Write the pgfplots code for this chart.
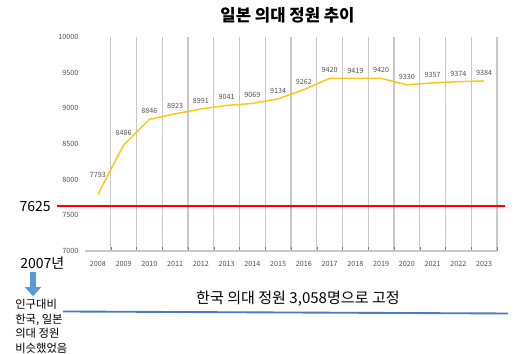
\documentclass[border=0pt]{standalone}
\usepackage{pgfplots}
\pgfplotsset{compat=1.18}
\usetikzlibrary{arrows.meta}
\usepackage{fontspec}
\setmainfont{Noto Sans CJK KR}
\definecolor{lineyellow}{RGB}{250,200,20}
\definecolor{gridgray}{RGB}{200,200,200}
\definecolor{ticktext}{RGB}{80,80,80}
\definecolor{krblue}{RGB}{70,125,190}
\definecolor{arrowblue}{RGB}{91,155,213}
\begin{document}
\begin{tikzpicture}
\path[use as bounding box] (-63.75pt,-77.25pt) rectangle (322.5pt,188.25pt);
\begin{axis}[
  at={(0,0)}, anchor=south west,
  scale only axis, width=309pt, height=160.5pt,
  xmin=-0.5, xmax=15.5, ymin=7000, ymax=10000,
  clip=false,
  axis lines*=left,
  x axis line style={gridgray, line width=0.9pt},
  y axis line style={draw=none},
  major tick length=0pt,
  xtick={0,...,15},
  xticklabels={2008,2009,2010,2011,2012,2013,2014,2015,2016,2017,2018,2019,2020,2021,2022,2023},
  minor xtick={0.5,1.5,...,15.5},
  xminorgrids,
  minor x grid style={gridgray, line width=0.9pt},
  ytick={7000,7500,...,10000},
  scaled y ticks=false,
  /pgf/number format/assume math mode=true,
  /pgf/number format/1000 sep={},
  tick label style={font=\fontsize{5.4}{6}\selectfont, text=ticktext},
  xticklabel style={yshift=-4pt},
  yticklabel style={xshift=-1.5pt},
]
\addplot[lineyellow, line width=1.1pt, mark=none,
  nodes near coords, point meta=explicit symbolic,
  visualization depends on={\thisrow{off} \as \off},
  nodes near coords style={font=\fontsize{5.4}{6}\selectfont, text=ticktext, anchor=center, yshift=\off pt}]
  table[x=x, y=y, meta=lab] {
x y lab off
0 7793 7793 15
1 8486 8486 9
2 8846 8846 6
3 8923 8923 6
4 8991 8991 6
5 9041 9041 6
6 9069 9069 6
7 9134 9134 6
8 9262 9262 6
9 9420 9420 6
10 9419 9419 6
11 9420 9420 6
12 9330 9330 6
13 9357 9357 6
14 9374 9374 6
15 9384 9384 6
};
\addplot[red, line width=1.4pt, mark=none] coordinates {(-1.59,7625) (15.81,7625)};
\addplot[krblue, line width=1.4pt, mark=none] coordinates {(-1.354,6152) (15.93,6124)};
\end{axis}
\node[font=\fontsize{12.5}{14}\selectfont\bfseries] at (151.9pt,177pt) {일본 의대 정원 추이};
\node[font=\fontsize{10.5}{12}\selectfont, anchor=east, inner sep=0pt] at (-25.5pt,33pt) {7625};
\node[font=\fontsize{10.5}{12}\selectfont, anchor=west, inner sep=0pt] at (-48.75pt,-9pt) {2007년};
\draw[arrowblue, line width=5pt, -{Triangle[length=7pt,width=12pt]}] (-39pt,-15.5pt) -- (-39pt,-34pt);
\node[font=\fontsize{8.5}{11}\selectfont, anchor=north west, align=left, inner sep=0pt] at (-52.5pt,-36pt) {인구대비\\한국, 일본\\의대 정원\\비슷했었음};
\node[font=\fontsize{11.3}{12}\selectfont] at (159.75pt,-36pt) {한국 의대 정원 3,058명으로 고정};
\end{tikzpicture}
\end{document}
